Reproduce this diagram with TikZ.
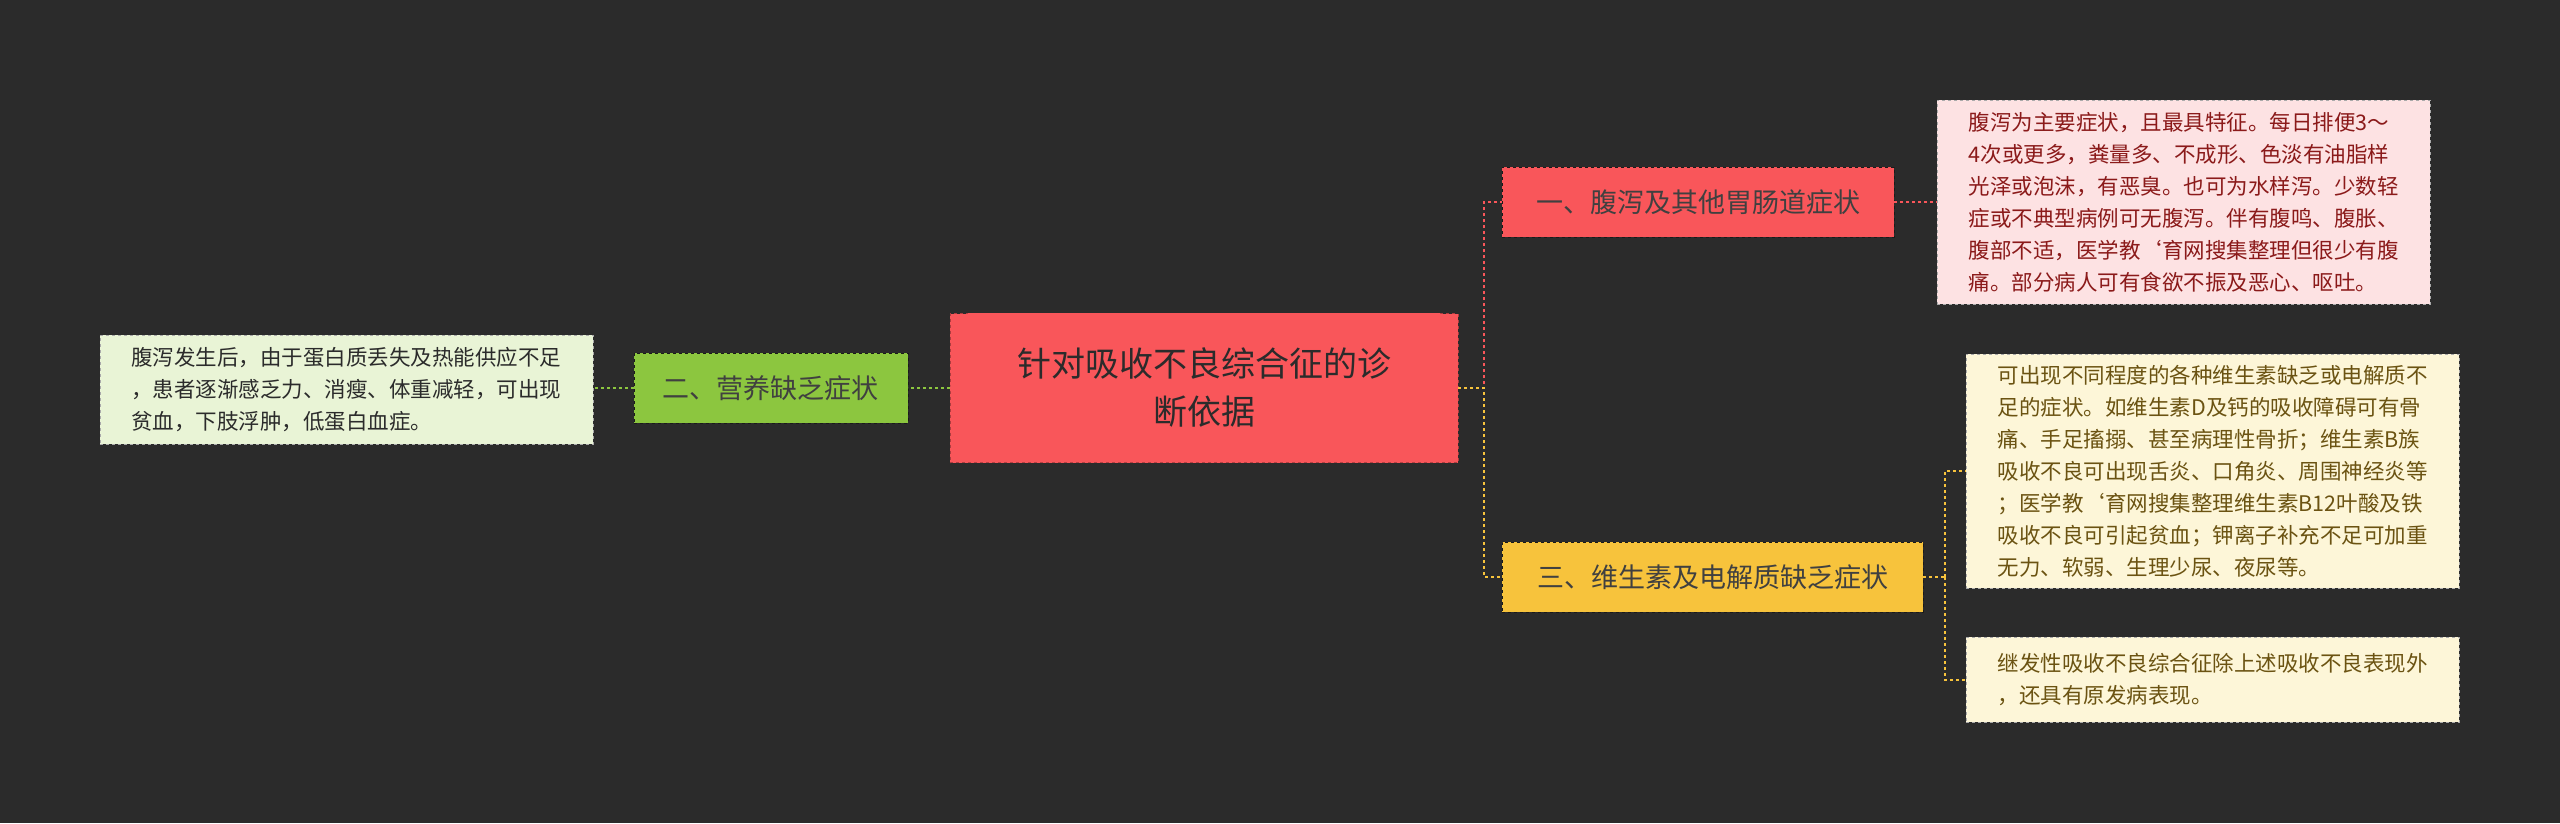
\documentclass[tikz,border=0pt]{standalone}
\usepackage{fontspec}
\setmainfont{Noto Sans CJK SC}
\usetikzlibrary{shapes.misc}
\definecolor{bg}{HTML}{2B2B2B}
\definecolor{redb}{HTML}{F9565A}
\definecolor{redl}{HTML}{FDE2E3}
\definecolor{redt}{HTML}{8B1A1A}
\definecolor{yelb}{HTML}{F7C33C}
\definecolor{yell}{HTML}{FDF6D8}
\definecolor{yelt}{HTML}{6B5312}
\definecolor{grnb}{HTML}{8CC63F}
\definecolor{grnl}{HTML}{E9F4D6}
\tikzset{
 branch/.style={draw=bg!60!black,dashed,minimum height=70pt,font=\fontsize{27}{32}\selectfont,inner xsep=12pt,anchor=west},
 leaf/.style={draw=bg!40,dashed,align=left,font=\fontsize{21.5}{32}\selectfont,inner xsep=12pt,inner ysep=10pt,anchor=north west},
 conn/.style={dashed,line width=2pt}
}
\begin{document}
\begin{tikzpicture}[x=1pt,y=-1pt]
\fill[bg] (0,0) rectangle (2560,823);
\useasboundingbox (0,0) rectangle (2560,823);
\node[fill=redb,draw=redb!70!black,dashed,minimum width=508pt,minimum height=149pt,align=center,font=\fontsize{34}{46}\selectfont,text=bg!80!black] (c) at (1204,388) {};
\fill[redb] (950,388) -- (968,313) -- (1440,313) -- (1458,388) -- (1440,462) -- (968,462) -- cycle;
\node[text=bg,align=center,font=\fontsize{34}{48}\selectfont] (ct) at (1204,388) {针对吸收不良综合征的诊\\断依据};
\node[branch,fill=redb,text=bg!90,minimum width=392pt] (b1) at (1502,202) {一、腹泻及其他胃肠道症状};
\node[branch,fill=yelb,text=bg!90,minimum width=421pt] (b3) at (1502,577) {三、维生素及电解质缺乏症状};
\node[branch,fill=grnb,text=bg!90,minimum width=274pt,anchor=east] (b2) at (908,388) {二、营养缺乏症状};
\node[leaf,fill=redl,text=redt,minimum width=493pt,minimum height=204pt] (l1) at (1937,100) {腹泻为主要症状，且最具特征。每日排便3～\\4次或更多，粪量多、不成形、色淡有油脂样\\光泽或泡沫，有恶臭。也可为水样泻。少数轻\\症或不典型病例可无腹泻。伴有腹鸣、腹胀、\\腹部不适，医学教`育网搜集整理但很少有腹\\痛。部分病人可有食欲不振及恶心、呕吐。};
\node[leaf,fill=yell,text=yelt,minimum width=493pt,minimum height=234pt] (l3a) at (1966,354) {可出现不同程度的各种维生素缺乏或电解质不\\足的症状。如维生素D及钙的吸收障碍可有骨\\痛、手足搐搦、甚至病理性骨折；维生素B族\\吸收不良可出现舌炎、口角炎、周围神经炎等\\；医学教`育网搜集整理维生素B12叶酸及铁\\吸收不良可引起贫血；钾离子补充不足可加重\\无力、软弱、生理少尿、夜尿等。};
\node[leaf,fill=yell,text=yelt,minimum width=493pt,minimum height=85pt] (l3b) at (1966,637) {继发性吸收不良综合征除上述吸收不良表现外\\，还具有原发病表现。};
\node[leaf,fill=grnl,text=bg,minimum width=493pt,minimum height=109pt,anchor=north east] (l2) at (593,335) {腹泻发生后，由于蛋白质丢失及热能供应不足\\，患者逐渐感乏力、消瘦、体重减轻，可出现\\贫血，下肢浮肿，低蛋白血症。};
\coordinate (j1) at (1484,388);
\coordinate (j3) at (1945,577);
\draw[conn,redb] (1458,388) -- (j1) |- (b1.west);
\draw[conn,yelb] (1458,388) -- (j1) |- (b3.west);
\draw[conn,grnb] (950,388) -- (b2.east);
\draw[conn,redb] (b1.east) -- (l1.west |- b1.east);
\draw[conn,yelb] (b3.east) -- (j3);
\draw[conn,yelb] (j3) |- (l3a.west);
\draw[conn,yelb] (j3) |- (l3b.west);
\draw[conn,grnb] (b2.west) -- (l2.east |- b2.west);
\end{tikzpicture}
\end{document}
